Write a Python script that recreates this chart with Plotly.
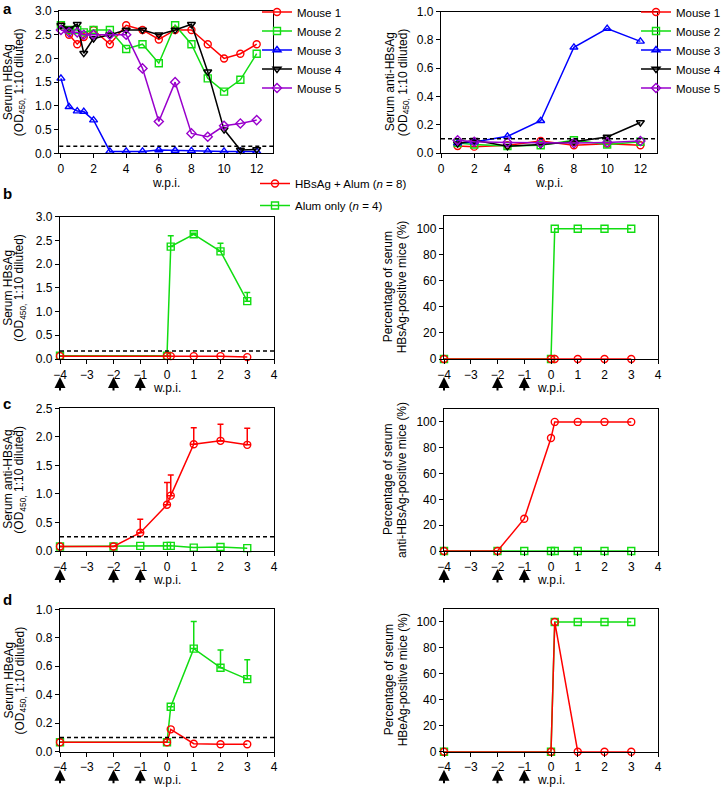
import plotly.graph_objects as go

# ---------------- DATA ----------------
# Panel a (left): serum HBsAg, individual mice
a_weeks_ag = [0, 0.5, 1, 1.4, 2, 3, 4, 5, 6, 7, 8, 9, 10, 11, 12]
m1_ag = [2.70, 2.50, 2.30, 2.45, 2.60, 2.30, 2.70, 2.60, 2.40, 2.60, 2.60, 2.30, 2.00, 2.10, 2.30]
m2_ag = [2.70, 2.60, 2.60, 2.55, 2.60, 2.60, 2.20, 2.30, 1.90, 2.70, 2.30, 1.58, 1.30, 1.55, 2.10]
m3_ag = [1.58, 0.98, 0.89, 0.88, 0.70, 0.04, 0.04, 0.04, 0.07, 0.06, 0.05, 0.04, 0.04, 0.04, 0.04]
m4_ag = [2.70, 2.62, 2.72, 2.11, 2.42, 2.50, 2.60, 2.60, 2.50, 2.60, 2.72, 1.72, 0.50, 0.07, 0.08]
m5_ag = [2.60, 2.55, 2.55, 2.50, 2.50, 2.50, 2.50, 1.79, 0.67, 1.50, 0.42, 0.35, 0.58, 0.63, 0.70]
a_cutoff_ag = 0.15

# Panel a (right): serum anti-HBsAg, individual mice
a_weeks_ab = [1, 2, 4, 6, 8, 10, 12]
m1_ab = [0.050, 0.045, 0.055, 0.085, 0.055, 0.065, 0.055]
m2_ab = [0.070, 0.060, 0.050, 0.055, 0.090, 0.060, 0.080]
m3_ab = [0.070, 0.078, 0.118, 0.228, 0.748, 0.880, 0.790]
m4_ab = [0.066, 0.090, 0.047, 0.060, 0.080, 0.113, 0.216]
m5_ab = [0.090, 0.080, 0.075, 0.070, 0.070, 0.075, 0.085]
a_cutoff_ab = 0.10

mouse_names = ["Mouse 1", "Mouse 2", "Mouse 3", "Mouse 4", "Mouse 5"]
group_names = ["HBsAg + Alum (<i>n</i> = 8)", "Alum only (<i>n</i> = 4)"]

# Panel b: serum HBsAg
b_weeks = [-4, 0, 0.14, 1, 2, 3]
b_vacc_ag = [0.06, 0.06, 0.06, 0.06, 0.06, 0.04]
b_alum_ag = [0.07, 0.07, 2.37, 2.63, 2.27, 1.22]
b_alum_ag_err = [0, 0, 0.23, 0.02, 0.17, 0.18]
b_vacc_pct = [0, 0, 0, 0, 0, 0]
b_alum_pct = [0, 0, 100, 100, 100, 100]
b_cutoff = 0.17

# Panel c: serum anti-HBsAg
c_weeks = [-4, -2, -1, 0, 0.14, 1, 2, 3]
c_vacc_ab = [0.08, 0.08, 0.32, 0.81, 0.97, 1.87, 1.93, 1.86]
c_vacc_ab_err = [0, 0, 0.235, 0.39, 0.36, 0.29, 0.29, 0.29]
c_alum_ab = [0.08, 0.08, 0.09, 0.09, 0.09, 0.06, 0.07, 0.05]
c_vacc_pct = [0, 0, 25, 87.5, 100, 100, 100, 100]
c_alum_pct = [0, 0, 0, 0, 0, 0, 0, 0]
c_cutoff = 0.25

# Panel d: serum HBeAg
d_weeks = [-4, 0, 0.14, 1, 2, 3]
d_vacc_eag = [0.066, 0.066, 0.157, 0.056, 0.052, 0.052]
d_alum_eag = [0.066, 0.066, 0.316, 0.724, 0.590, 0.510]
d_alum_eag_err = [0, 0, 0, 0.19, 0.125, 0.135]
d_vacc_pct = [0, 0, 100, 0, 0, 0]
d_alum_pct = [0, 0, 100, 100, 100, 100]
d_cutoff = 0.10

immunization_weeks = [-4, -2, -1]

# ---------------- STYLE ----------------
W, H = 723, 787
FONT = "Liberation Sans, Arial, Helvetica, sans-serif"
RED, GREEN, BLUE, BLACK, PURPLE = "#ff0000", "#11dd11", "#0000ff", "#000000", "#9900cc"
mouse_colors = [RED, GREEN, BLUE, BLACK, PURPLE]
mouse_symbols = ["circle-open", "square-open", "triangle-up-open", "triangle-down-open", "diamond-open"]

# pixel boxes: left, right, top, bottom
boxes = {
    1: (59.3, 273, 11, 153.3),
    2: (441, 657, 11.7, 153),
    3: (60, 274, 216.7, 359),
    4: (444, 658, 215.7, 359),
    5: (60, 274, 408.3, 551),
    6: (444, 658, 409, 551),
    7: (60, 274, 609.3, 751.7),
    8: (444, 658, 609, 751.7),
}


def px_x(p):
    return p / W


def px_y(p):
    return 1 - p / H


fig = go.Figure()


def add(x, y, color, symbol, n, name=None, legend=None, showlegend=False, err=None, rank=1000, group=None):
    kw = {}
    if err is not None:
        kw["error_y"] = dict(type="data", symmetric=False, array=err, arrayminus=[0] * len(err),
                             color=color, thickness=1.5, width=3)
    fig.add_trace(go.Scatter(
        x=x, y=y, mode="lines+markers",
        line=dict(color=color, width=1.5),
        marker=dict(symbol=symbol, size=7, color=color, line=dict(color=color, width=1.4)),
        xaxis="x" if n == 1 else f"x{n}", yaxis="y" if n == 1 else f"y{n}",
        name=name, showlegend=showlegend, legend=legend, legendrank=rank,
        legendgroup=group, cliponaxis=False, **kw))


# Panel a left
for i, ys in enumerate([m1_ag, m2_ag, m3_ag, m4_ag, m5_ag]):
    add(a_weeks_ag, ys, mouse_colors[i], mouse_symbols[i], 1, name=mouse_names[i],
        legend="legend", showlegend=True)
# Panel a right
for i, ys in enumerate([m1_ab, m2_ab, m3_ab, m4_ab, m5_ab]):
    add(a_weeks_ab, ys, mouse_colors[i], mouse_symbols[i], 2, name=mouse_names[i],
        legend="legend2", showlegend=True)

# Panel b
add(b_weeks, b_alum_ag, GREEN, "square-open", 3, name=group_names[1], legend="legend3",
    showlegend=True, err=b_alum_ag_err, rank=2, group="g2")
add(b_weeks, b_vacc_ag, RED, "circle-open", 3, name=group_names[0], legend="legend3",
    showlegend=True, rank=1, group="g1")
add(b_weeks, b_alum_pct, GREEN, "square-open", 4)
add(b_weeks, b_vacc_pct, RED, "circle-open", 4)
# Panel c
add(c_weeks, c_alum_ab, GREEN, "square-open", 5)
add(c_weeks, c_vacc_ab, RED, "circle-open", 5, err=c_vacc_ab_err)
add(c_weeks, c_alum_pct, GREEN, "square-open", 6)
add(c_weeks, c_vacc_pct, RED, "circle-open", 6)
# Panel d
add(d_weeks, d_alum_eag, GREEN, "square-open", 7, err=d_alum_eag_err)
add(d_weeks, d_vacc_eag, RED, "circle-open", 7)
add(d_weeks, d_alum_pct, GREEN, "square-open", 8)
add(d_weeks, d_vacc_pct, RED, "circle-open", 8)

axis_common = dict(showline=True, linecolor="black", linewidth=1.3, mirror=True,
                   ticks="outside", ticklen=4, tickwidth=1.2, tickcolor="black",
                   showgrid=False, zeroline=False, fixedrange=True, automargin=False,
                   tickfont=dict(size=12, color="black", family=FONT))

xcfg = {
    1: dict(range=[-0.1, 13], tickvals=[0, 2, 4, 6, 8, 10, 12]),
    2: dict(range=[0, 13], tickvals=[0, 2, 4, 6, 8, 10, 12]),
}
for n in range(3, 9):
    xcfg[n] = dict(range=[-4, 4], tickvals=list(range(-4, 5)))
ycfg = {
    1: dict(range=[0, 3], dtick=0.5, tickformat=".1f"),
    2: dict(range=[0, 1], dtick=0.2, tickformat=".1f"),
    3: dict(range=[0, 3], dtick=0.5, tickformat=".1f"),
    5: dict(range=[0, 2.5], dtick=0.5, tickformat=".1f"),
    7: dict(range=[0, 1], dtick=0.2, tickformat=".1f"),
}
for n in (4, 6, 8):
    ycfg[n] = dict(range=[0, 110], tickvals=[0, 20, 40, 60, 80, 100])

layout = dict(width=W, height=H, margin=dict(l=0, r=0, t=0, b=0, autoexpand=False),
              paper_bgcolor="white", plot_bgcolor="white",
              font=dict(family=FONT, size=12, color="black"))
for n, (l, r, t, b) in boxes.items():
    xs = "xaxis" if n == 1 else f"xaxis{n}"
    ys = "yaxis" if n == 1 else f"yaxis{n}"
    layout[xs] = dict(domain=[px_x(l), px_x(r)], anchor="y" if n == 1 else f"y{n}", **axis_common, **xcfg[n])
    layout[ys] = dict(domain=[px_y(b), px_y(t)], anchor="x" if n == 1 else f"x{n}", **axis_common, **ycfg[n])


def leg(x, y, size):
    return dict(x=px_x(x), y=px_y(y), bgcolor="rgba(0,0,0,0)",
                font=dict(size=size, family=FONT, color="black"),
                xanchor="left", yanchor="top", itemclick=False, itemdoubleclick=False)


layout["legend"] = leg(257, -2.5, 11.5)
layout["legend2"] = leg(636, -2.5, 11.5)
layout["legend3"] = dict(tracegroupgap=3, **leg(255, 169, 11.5))
fig.update_layout(**layout)

# dashed cut-off lines
for n, cut in [(1, a_cutoff_ag), (2, a_cutoff_ab), (3, b_cutoff), (5, c_cutoff), (7, d_cutoff)]:
    xr = "x" if n == 1 else f"x{n}"
    yr = "y" if n == 1 else f"y{n}"
    fig.add_shape(type="line", xref=f"{xr} domain", yref=yr, x0=0, x1=1, y0=cut, y1=cut,
                  line=dict(color="black", width=1.5, dash="4px,3px"))

ann = []
# y-axis titles (two lines each)
ytitles = {
    1: ("Serum HBsAg", "(OD<sub>450,</sub> 1:10 diluted)", 8, 20),
    2: ("Serum anti-HBsAg", "(OD<sub>450,</sub> 1:10 diluted)", 390, 404),
    3: ("Serum HBsAg", "(OD<sub>450,</sub> 1:10 diluted)", 8, 20),
    4: ("Percentage of serum", "HBsAg-positive mice (%)", 388, 402),
    5: ("Serum anti-HBsAg", "(OD<sub>450,</sub> 1:10 diluted)", 8, 20),
    6: ("Percentage of serum", "anti-HBsAg-positive mice (%)", 388, 402),
    7: ("Serum HBeAg", "(OD<sub>450,</sub> 1:10 diluted)", 8, 20),
    8: ("Percentage of serum", "HBeAg-positive mice (%)", 389, 403),
}
for n, (t1, t2, x1, x2) in ytitles.items():
    l, r, t, b = boxes[n]
    yc = px_y((t + b) / 2)
    for txt, xc in ((t1, x1), (t2, x2)):
        ann.append(dict(text=txt, x=px_x(xc), y=yc, xref="paper", yref="paper", textangle=-90,
                        showarrow=False, xanchor="center", yanchor="middle",
                        font=dict(size=12, family=FONT, color="black")))

# x-axis titles
for n in (1, 2):
    l, r, t, b = boxes[n]
    ann.append(dict(text="w.p.i.", x=px_x((l + r) / 2), y=px_y(183), xref="paper", yref="paper",
                    showarrow=False, xanchor="center", yanchor="middle",
                    font=dict(size=12, family=FONT, color="black")))
for n in range(3, 9):
    l, r, t, b = boxes[n]
    off = 28 if n >= 7 else 29
    ann.append(dict(text="w.p.i.", x=-1, xref=f"x{n}", xshift=11, y=px_y(b + off), yref="paper",
                    showarrow=False, xanchor="left", yanchor="middle",
                    font=dict(size=12, family=FONT, color="black")))
    for wk in immunization_weeks:
        ann.append(dict(text="", x=wk, xref=f"x{n}", y=px_y(b + 18), yref="paper",
                        showarrow=True, arrowhead=2, arrowsize=1.1, arrowwidth=2, arrowcolor="black",
                        ax=0, ay=15, standoff=0))

# panel letters
for letter, yy in (("a", 8.5), ("b", 193), ("c", 404), ("d", 599)):
    ann.append(dict(text=f"<b>{letter}</b>", x=px_x(1), y=px_y(yy), xref="paper", yref="paper",
                    showarrow=False, xanchor="left", yanchor="middle",
                    font=dict(size=15, family=FONT, color="black")))

fig.update_layout(annotations=ann)
fig.write_html("out.html", config={"displayModeBar": False},
               post_script="document.body.style.margin='0';")
